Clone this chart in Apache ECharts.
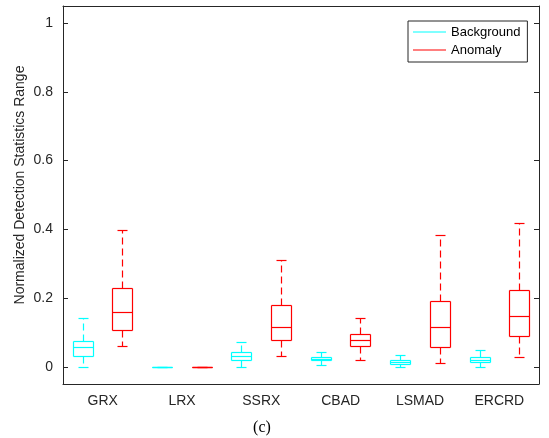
<!DOCTYPE html>
<html>
<head>
<meta charset="utf-8">
<script src="https://cdn.jsdelivr.net/npm/echarts@6/dist/echarts.min.js"></script>
<style>
  html, body { margin: 0; padding: 0; background: #fff; }
  #chart { width: 549px; height: 438px; }
</style>
</head>
<body>
<div id="chart"></div>
<script>
// method names on the x axis
const categories = ['GRX', 'LRX', 'SSRX', 'CBAD', 'LSMAD', 'ERCRD'];
// each row: [lower whisker, q1, median, q3, upper whisker]
const backgroundStats = [
  [0.000, 0.031, 0.058, 0.076, 0.142],
  [0.000, 0.000, 0.000, 0.000, 0.000],
  [0.000, 0.0195, 0.031, 0.042, 0.073],
  [0.004, 0.019, 0.023, 0.029, 0.043],
  [0.000, 0.007, 0.013, 0.019, 0.034],
  [0.000, 0.013, 0.0195, 0.0275, 0.050]
];
const anomalyStats = [
  [0.060, 0.1065, 0.159, 0.228, 0.399],
  [0.000, 0.000, 0.000, 0.000, 0.000],
  [0.032, 0.079, 0.117, 0.180, 0.312],
  [0.0205, 0.0605, 0.077, 0.095, 0.142],
  [0.011, 0.0585, 0.117, 0.192, 0.385],
  [0.029, 0.090, 0.149, 0.2245, 0.418]
];
const yTicks = [0, 0.2, 0.4, 0.6, 0.8, 1];

const axisColor = '#262626';
const font = '"Liberation Sans", Arial, sans-serif';

// matlab-ish box: solid box + median, dashed whiskers, short caps
function boxRenderer(shift, color) {
  return function (params, api) {
    const i = api.value(0);
    const band = api.size([1, 0])[0];
    const cx = Math.round(api.coord([i, 0])[0] + shift * band) + 0.5;
    const y = k => Math.round(api.coord([i, api.value(k)])[1]) + 0.5;
    const lo = y(1), q1 = y(2), md = y(3), q3 = y(4), hi = y(5);
    const hw = Math.round(band * 0.125);
    const cw = Math.round(hw / 2);
    // fresh style objects each time, echarts mutates them
    const solid = () => ({ stroke: color, lineWidth: 1.2, fill: 'none' });
    const dashed = () => ({ stroke: color, lineWidth: 1.2, lineDash: [7, 4], fill: 'none' });
    const line = (x1, y1, x2, y2, st) => ({ type: 'line', shape: { x1, y1, x2, y2 }, style: st });
    return {
      type: 'group',
      children: [
        line(cx, q3, cx, hi, dashed()),
        line(cx, q1, cx, lo, dashed()),
        line(cx - cw, hi, cx + cw, hi, solid()),
        line(cx - cw, lo, cx + cw, lo, solid()),
        line(cx - hw, q3, cx + hw, q3, solid()),
        line(cx - hw, q1, cx + hw, q1, solid()),
        line(cx - hw, q3, cx - hw, q1, solid()),
        line(cx + hw, q3, cx + hw, q1, solid()),
        line(cx - hw, md, cx + hw, md, solid())
      ]
    };
  };
}

const toData = stats => stats.map((s, i) => [i].concat(s));

const chart = echarts.init(document.getElementById('chart'));
const option = {
  animation: false,
  backgroundColor: '#fff',
  grid: { left: 63, right: 10, top: 6, bottom: 54, containLabel: false },
  legend: {
    orient: 'vertical',
    left: 408,
    top: 21,
    padding: [4, 7, 5, 5],
    itemGap: 4,
    itemWidth: 33,
    itemHeight: 1,
    icon: 'rect',
    backgroundColor: '#fff',
    borderColor: axisColor,
    borderWidth: 1,
    borderRadius: 0,
    textStyle: { fontFamily: font, fontSize: 13, color: '#000', lineHeight: 14 },
    data: [
      { name: 'Background', itemStyle: { color: '#00FFFF' } },
      { name: 'Anomaly', itemStyle: { color: '#FF0000' } }
    ]
  },
  xAxis: [
    {
      type: 'category',
      data: categories,
      position: 'bottom',
      axisLine: { onZero: false, lineStyle: { color: axisColor, width: 1 } },
      axisTick: { inside: true, alignWithLabel: true, length: 5, lineStyle: { color: axisColor } },
      axisLabel: { margin: 10, fontFamily: font, fontSize: 14, color: axisColor },
      splitLine: { show: false }
    },
    {
      type: 'category',
      data: categories,
      position: 'top',
      axisLine: { onZero: false, lineStyle: { color: axisColor, width: 1 } },
      axisTick: { inside: true, alignWithLabel: true, length: 5, lineStyle: { color: axisColor } },
      axisLabel: { show: false },
      splitLine: { show: false }
    }
  ],
  yAxis: [
    {
      type: 'value',
      min: -0.05,
      max: 1.05,
      axisLine: { show: true, onZero: false, lineStyle: { color: axisColor, width: 1 } },
      axisTick: { show: true, inside: true, length: 5, customValues: yTicks, lineStyle: { color: axisColor } },
      axisLabel: {
        margin: 10,
        fontFamily: font,
        fontSize: 14,
        color: axisColor,
        customValues: yTicks,
        formatter: v => String(+(+v).toFixed(1))
      },
      splitLine: { show: false }
    },
    {
      type: 'value',
      position: 'right',
      min: -0.05,
      max: 1.05,
      axisLine: { show: true, onZero: false, lineStyle: { color: axisColor, width: 1 } },
      axisTick: { show: true, inside: true, length: 5, customValues: yTicks, lineStyle: { color: axisColor } },
      axisLabel: { show: false },
      splitLine: { show: false }
    }
  ],
  series: [
    {
      name: 'Background',
      type: 'custom',
      itemStyle: { color: '#00FFFF' },
      renderItem: boxRenderer(-0.25, '#00FFFF'),
      encode: { x: 0, y: [1, 2, 3, 4, 5] },
      data: toData(backgroundStats)
    },
    {
      name: 'Anomaly',
      type: 'custom',
      itemStyle: { color: '#FF0000' },
      renderItem: boxRenderer(0.25, '#FF0000'),
      encode: { x: 0, y: [1, 2, 3, 4, 5] },
      data: toData(anomalyStats)
    }
  ],
  graphic: [
    {
      // y axis title, placed like matlab's ylabel
      type: 'text',
      x: 20,
      y: 185,
      rotation: Math.PI / 2,
      style: {
        text: 'Normalized Detection Statistics Range',
        font: '14px "Liberation Sans", Arial, sans-serif',
        fill: axisColor,
        textAlign: 'center',
        textVerticalAlign: 'middle'
      }
    },
    {
      type: 'text',
      x: 262,
      y: 428,
      style: {
        text: '(c)',
        font: '16px "Liberation Serif", "Times New Roman", serif',
        fill: '#000',
        textAlign: 'center',
        textVerticalAlign: 'middle'
      }
    }
  ]
};
chart.setOption(option);
</script>
</body>
</html>
